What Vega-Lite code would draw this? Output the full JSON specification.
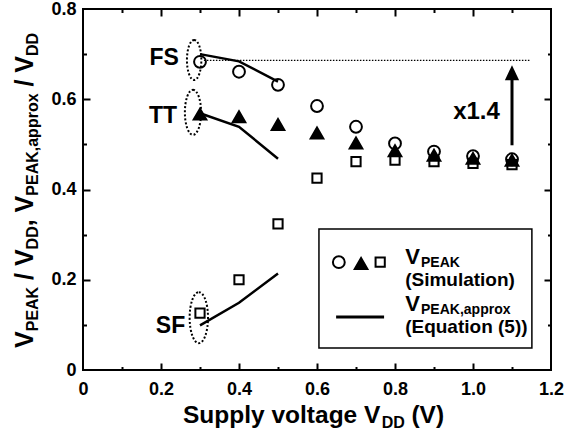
{
  "$schema": "https://vega.github.io/schema/vega-lite/v6.json",
  "width": 468,
  "height": 361,
  "autosize": {"type": "none"},
  "padding": {"left": 83, "top": 9, "right": 18, "bottom": 73},
  "config": {
    "view": {"stroke": "black", "strokeWidth": 2},
    "font": "Liberation Sans",
    "axis": {"grid": false, "domain": false, "tickColor": "black", "tickWidth": 2, "labelColor": "black", "labelFont": "Liberation Sans", "labelFontWeight": "bold", "labelFontSize": 18}
  },
  "datasets": {
    "sim": [
      {"x": 0.3, "y": 0.683, "c": "FS"}, {"x": 0.4, "y": 0.661, "c": "FS"}, {"x": 0.5, "y": 0.632, "c": "FS"},
      {"x": 0.6, "y": 0.585, "c": "FS"}, {"x": 0.7, "y": 0.539, "c": "FS"}, {"x": 0.8, "y": 0.502, "c": "FS"},
      {"x": 0.9, "y": 0.484, "c": "FS"}, {"x": 1.0, "y": 0.474, "c": "FS"}, {"x": 1.1, "y": 0.467, "c": "FS"},
      {"x": 0.3, "y": 0.567, "c": "TT"}, {"x": 0.4, "y": 0.561, "c": "TT"}, {"x": 0.5, "y": 0.544, "c": "TT"},
      {"x": 0.6, "y": 0.525, "c": "TT"}, {"x": 0.7, "y": 0.503, "c": "TT"}, {"x": 0.8, "y": 0.486, "c": "TT"},
      {"x": 0.9, "y": 0.476, "c": "TT"}, {"x": 1.0, "y": 0.469, "c": "TT"}, {"x": 1.1, "y": 0.465, "c": "TT"},
      {"x": 0.3, "y": 0.126, "c": "SF"}, {"x": 0.4, "y": 0.200, "c": "SF"}, {"x": 0.5, "y": 0.324, "c": "SF"},
      {"x": 0.6, "y": 0.425, "c": "SF"}, {"x": 0.7, "y": 0.462, "c": "SF"}, {"x": 0.8, "y": 0.465, "c": "SF"},
      {"x": 0.9, "y": 0.462, "c": "SF"}, {"x": 1.0, "y": 0.458, "c": "SF"}, {"x": 1.1, "y": 0.455, "c": "SF"}
    ],
    "approx": [
      {"x": 0.3, "y": 0.700, "c": "FS"}, {"x": 0.4, "y": 0.684, "c": "FS"}, {"x": 0.5, "y": 0.639, "c": "FS"},
      {"x": 0.3, "y": 0.569, "c": "TT"}, {"x": 0.4, "y": 0.539, "c": "TT"}, {"x": 0.5, "y": 0.468, "c": "TT"},
      {"x": 0.3, "y": 0.099, "c": "SF"}, {"x": 0.4, "y": 0.149, "c": "SF"}, {"x": 0.5, "y": 0.214, "c": "SF"}
    ]
  },
  "encoding": {
    "x": {"field": "x", "type": "quantitative", "scale": {"domain": [0, 1.2], "nice": false, "zero": false}, "axis": null},
    "y": {"field": "y", "type": "quantitative", "scale": {"domain": [0, 0.8], "nice": false, "zero": false}, "axis": null}
  },
  "resolve": {"axis": {"x": "independent", "y": "independent"}},
  "layer": [
    {
      "data": {"name": "sim"},
      "mark": {"type": "point", "opacity": 0},
      "encoding": {
        "x": {"field": "x", "type": "quantitative", "scale": {"domain": [0, 1.2], "nice": false, "zero": false},
              "axis": {"orient": "bottom", "values": [0, 0.2, 0.4, 0.6, 0.8, 1.0, 1.2], "labelExpr": "datum.value == 0 ? '0' : format(datum.value, '.1f')", "ticks": false, "labelPadding": 10, "title": null, "labelFlush": false, "labelOverlap": false}},
        "y": {"field": "y", "type": "quantitative", "scale": {"domain": [0, 0.8], "nice": false, "zero": false},
              "axis": {"orient": "left", "values": [0, 0.2, 0.4, 0.6, 0.8], "labelExpr": "datum.value == 0 ? '0' : format(datum.value, '.1f')", "ticks": false, "labelPadding": 7, "title": null, "labelFlush": false, "labelOverlap": false}}
      }
    },
    {
      "data": {"name": "sim"},
      "mark": {"type": "point", "opacity": 0},
      "encoding": {
        "x": {"field": "x", "type": "quantitative", "scale": {"domain": [0, 1.2], "nice": false, "zero": false},
              "axis": {"orient": "bottom", "values": [0.2, 0.4, 0.6, 0.8, 1.0], "labels": false, "ticks": true, "tickSize": -7, "title": null}},
        "y": {"field": "y", "type": "quantitative", "scale": {"domain": [0, 0.8], "nice": false, "zero": false},
              "axis": {"orient": "left", "values": [0.2, 0.4, 0.6], "labels": false, "ticks": true, "tickSize": -7, "title": null}}
      }
    },
    {
      "data": {"name": "sim"},
      "mark": {"type": "point", "opacity": 0},
      "encoding": {
        "x": {"field": "x", "type": "quantitative", "scale": {"domain": [0, 1.2], "nice": false, "zero": false},
              "axis": {"orient": "bottom", "values": [0.1, 0.3, 0.5, 0.7, 0.9, 1.1], "labels": false, "ticks": true, "tickSize": -3.5, "title": null}},
        "y": {"field": "y", "type": "quantitative", "scale": {"domain": [0, 0.8], "nice": false, "zero": false},
              "axis": {"orient": "left", "values": [0.1, 0.3, 0.5, 0.7], "labels": false, "ticks": true, "tickSize": -3.5, "title": null}}
      }
    },
    {
      "data": {"name": "sim"},
      "mark": {"type": "point", "opacity": 0},
      "encoding": {
        "x": {"field": "x", "type": "quantitative", "scale": {"domain": [0, 1.2], "nice": false, "zero": false},
              "axis": {"orient": "top", "values": [0.2, 0.4, 0.6, 0.8, 1.0], "labels": false, "ticks": true, "tickSize": -7, "title": null}},
        "y": {"field": "y", "type": "quantitative", "scale": {"domain": [0, 0.8], "nice": false, "zero": false},
              "axis": {"orient": "right", "values": [0.2, 0.4, 0.6], "labels": false, "ticks": true, "tickSize": -7, "title": null}}
      }
    },
    {
      "data": {"name": "sim"},
      "mark": {"type": "point", "opacity": 0},
      "encoding": {
        "x": {"field": "x", "type": "quantitative", "scale": {"domain": [0, 1.2], "nice": false, "zero": false},
              "axis": {"orient": "top", "values": [0.1, 0.3, 0.5, 0.7, 0.9, 1.1], "labels": false, "ticks": true, "tickSize": -3.5, "title": null}},
        "y": {"field": "y", "type": "quantitative", "scale": {"domain": [0, 0.8], "nice": false, "zero": false},
              "axis": {"orient": "right", "values": [0.1, 0.3, 0.5, 0.7], "labels": false, "ticks": true, "tickSize": -3.5, "title": null}}
      }
    },
    {
      "data": {"values": [{"x": 0.605, "x2": 1.151, "y": 0.0488, "y2": 0.3125}]},
      "mark": {"type": "rect", "fill": "white", "stroke": "black", "strokeWidth": 1.5},
      "encoding": {"x2": {"field": "x2"}, "y2": {"field": "y2"}}
    },
    {
      "data": {"values": [{"x": 0.31, "x2": 1.146, "y": 0.686}]},
      "mark": {"type": "rule", "color": "black", "strokeWidth": 1.2, "strokeDash": [1.5, 1.5]},
      "encoding": {"x2": {"field": "x2"}}
    },
    {
      "data": {"name": "approx"},
      "mark": {"type": "line", "color": "black", "strokeWidth": 2.5},
      "encoding": {"detail": {"field": "c"}}
    },
    {
      "data": {"name": "sim"},
      "mark": {"type": "point", "filled": true, "stroke": "black", "strokeWidth": 2, "opacity": 1},
      "encoding": {
        "shape": {"field": "c", "type": "nominal", "scale": {"domain": ["FS", "TT", "SF"], "range": ["circle", "triangle-up", "square"]}, "legend": null},
        "fill": {"field": "c", "type": "nominal", "scale": {"domain": ["FS", "TT", "SF"], "range": ["transparent", "black", "transparent"]}, "legend": null},
        "size": {"field": "c", "type": "nominal", "scale": {"type": "ordinal", "domain": ["FS", "TT", "SF"], "range": [140, 160, 85]}, "legend": null}
      }
    },
    {
      "data": {"values": [{"x": 0.656, "y": 0.239, "c": "FS"}, {"x": 0.713, "y": 0.236, "c": "TT"}, {"x": 0.762, "y": 0.239, "c": "SF"}]},
      "mark": {"type": "point", "filled": true, "stroke": "black", "strokeWidth": 2, "opacity": 1},
      "encoding": {
        "shape": {"field": "c", "type": "nominal", "scale": {"domain": ["FS", "TT", "SF"], "range": ["circle", "triangle-up", "square"]}, "legend": null},
        "fill": {"field": "c", "type": "nominal", "scale": {"domain": ["FS", "TT", "SF"], "range": ["transparent", "black", "transparent"]}, "legend": null},
        "size": {"field": "c", "type": "nominal", "scale": {"type": "ordinal", "domain": ["FS", "TT", "SF"], "range": [140, 160, 85]}, "legend": null}
      }
    },
    {
      "data": {"values": [{"x": 0.649, "x2": 0.772, "y": 0.1175}]},
      "mark": {"type": "rule", "color": "black", "strokeWidth": 3},
      "encoding": {"x2": {"field": "x2"}}
    },
    {
      "data": {"values": [{"x": 0.285, "y": 0.687}]},
      "mark": {"type": "point", "filled": false, "color": "black", "strokeWidth": 2, "opacity": 1, "strokeDash": [2, 2], "size": 1600,
               "shape": "M0,-1C0.199,-1 0.36,-0.552 0.36,0C0.36,0.552 0.199,1 0,1C-0.199,1 -0.36,0.552 -0.36,0C-0.36,-0.552 -0.199,-1 0,-1Z"}
    },
    {
      "data": {"values": [{"x": 0.282, "y": 0.571}]},
      "mark": {"type": "point", "filled": false, "color": "black", "strokeWidth": 2, "opacity": 1, "strokeDash": [2, 2], "size": 2025,
               "shape": "M0,-1C0.199,-1 0.36,-0.552 0.36,0C0.36,0.552 0.199,1 0,1C-0.199,1 -0.36,0.552 -0.36,0C-0.36,-0.552 -0.199,-1 0,-1Z"}
    },
    {
      "data": {"values": [{"x": 0.297, "y": 0.116}]},
      "mark": {"type": "point", "filled": false, "color": "black", "strokeWidth": 2, "opacity": 1, "strokeDash": [2, 2], "size": 2601,
               "shape": "M0,-1C0.199,-1 0.36,-0.552 0.36,0C0.36,0.552 0.199,1 0,1C-0.199,1 -0.36,0.552 -0.36,0C-0.36,-0.552 -0.199,-1 0,-1Z"}
    },
    {
      "data": {"values": [{"x": 1.1, "y": 0.498, "y2": 0.645}]},
      "mark": {"type": "rule", "color": "black", "strokeWidth": 3},
      "encoding": {"y2": {"field": "y2"}}
    },
    {
      "data": {"values": [{"x": 1.1, "y": 0.659}]},
      "mark": {"type": "point", "filled": true, "color": "black", "opacity": 1, "size": 225, "shape": "M0,-1L0.95,1L-0.95,1Z"}
    },
    {
      "data": {"values": [{"x": 0.246, "y": 0.675, "t": "FS"}, {"x": 0.241, "y": 0.5465, "t": "TT"}, {"x": 0.262, "y": 0.0811, "t": "SF"}]},
      "mark": {"type": "text", "font": "Liberation Sans", "fontWeight": "bold", "fontSize": 23, "align": "right", "baseline": "alphabetic", "color": "black"},
      "encoding": {"text": {"field": "t"}}
    },
    {
      "data": {"values": [{"x": 1.009, "y": 0.556, "t": "x1.4"}]},
      "mark": {"type": "text", "font": "Liberation Sans", "fontWeight": "bold", "fontSize": 24, "align": "center", "baseline": "alphabetic", "color": "black"},
      "encoding": {"text": {"field": "t"}}
    },
    {
      "data": {"values": [{"x": -0.1282, "y": 0.0488, "t": "V"}, {"x": -0.1282, "y": 0.1996, "t": "/ V"}, {"x": -0.1282, "y": 0.3184, "t": ", V"}, {"x": -0.1282, "y": 0.6281, "t": "/ V"}]},
      "mark": {"type": "text", "font": "Liberation Sans", "fontWeight": "bold", "fontSize": 25, "align": "left", "baseline": "alphabetic", "angle": 270, "color": "black"},
      "encoding": {"text": {"field": "t"}}
    },
    {
      "data": {"values": [{"x": -0.1154, "y": 0.0858, "t": "PEAK"}, {"x": -0.1154, "y": 0.2673, "t": "DD"}, {"x": -0.1154, "y": 0.3863, "t": "PEAK,approx"}, {"x": -0.1154, "y": 0.6958, "t": "DD"}]},
      "mark": {"type": "text", "font": "Liberation Sans", "fontWeight": "bold", "fontSize": 16, "align": "left", "baseline": "alphabetic", "angle": 270, "color": "black"},
      "encoding": {"text": {"field": "t"}}
    },
    {
      "data": {"values": [{"x": 0.2564, "y": -0.1175, "t": "Supply voltage V"}, {"x": 0.842, "y": -0.1175, "t": "(V)"}]},
      "mark": {"type": "text", "font": "Liberation Sans", "fontWeight": "bold", "fontSize": 24.5, "align": "left", "baseline": "alphabetic", "color": "black"},
      "encoding": {"text": {"field": "t"}}
    },
    {
      "data": {"values": [{"x": 0.766, "y": -0.1285, "t": "DD"}]},
      "mark": {"type": "text", "font": "Liberation Sans", "fontWeight": "bold", "fontSize": 16, "align": "left", "baseline": "alphabetic", "color": "black"},
      "encoding": {"text": {"field": "t"}}
    },
    {
      "data": {"values": [{"x": 0.826, "y": 0.2345, "t": "V"}, {"x": 0.826, "y": 0.1305, "t": "V"}]},
      "mark": {"type": "text", "font": "Liberation Sans", "fontWeight": "bold", "fontSize": 22, "align": "left", "baseline": "alphabetic", "color": "black"},
      "encoding": {"text": {"field": "t"}}
    },
    {
      "data": {"values": [{"x": 0.8667, "y": 0.2275, "t": "PEAK"}, {"x": 0.8667, "y": 0.1235, "t": "PEAK,approx"}]},
      "mark": {"type": "text", "font": "Liberation Sans", "fontWeight": "bold", "fontSize": 14, "align": "left", "baseline": "alphabetic", "color": "black"},
      "encoding": {"text": {"field": "t"}}
    },
    {
      "data": {"values": [{"x": 0.826, "y": 0.187, "t": "(Simulation)"}, {"x": 0.826, "y": 0.081, "t": "(Equation (5))"}]},
      "mark": {"type": "text", "font": "Liberation Sans", "fontWeight": "bold", "fontSize": 19, "align": "left", "baseline": "alphabetic", "color": "black"},
      "encoding": {"text": {"field": "t"}}
    }
  ]
}
